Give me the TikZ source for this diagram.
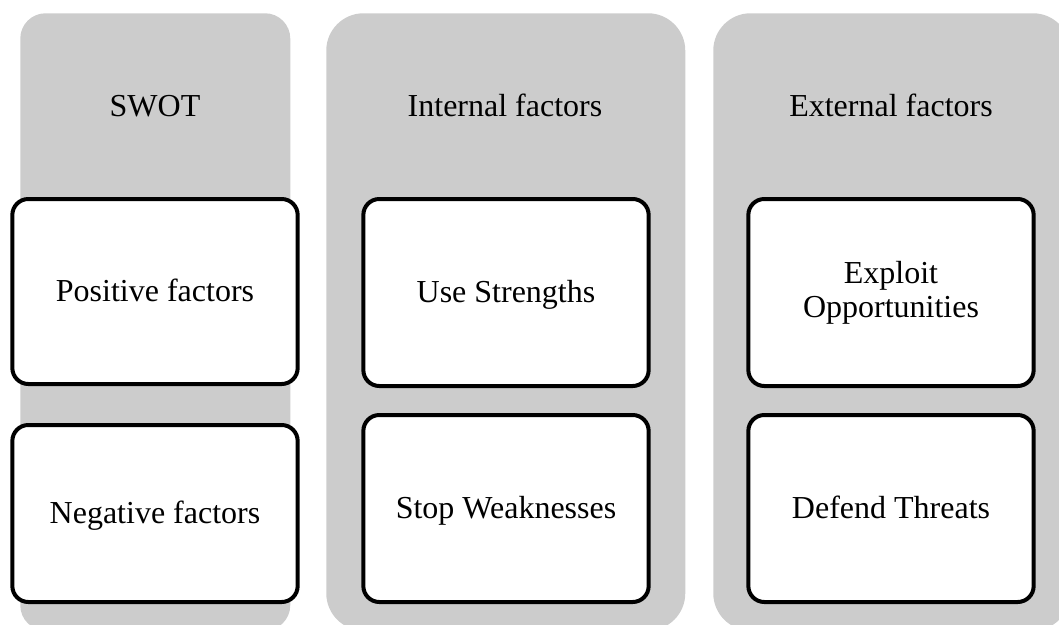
\documentclass[tikz,border=0pt]{standalone}
\usepackage{fontspec}
\setmainfont{Liberation Serif}
\definecolor{panelgray}{HTML}{CCCCCC}
\begin{document}
\begin{tikzpicture}[x=0.75pt,y=-0.75pt,
  panel/.style={fill=panelgray, draw=none, inner sep=0pt, anchor=north west},
  title/.style={anchor=base, inner sep=0pt, font=\fontsize{24}{25.5}\selectfont},
  factorbox/.style={draw=black, line width=3pt, fill=white, rounded corners=12pt,
    minimum width=214pt, inner sep=0pt, align=center,
    font=\fontsize{24}{25.5}\selectfont},
  oneline/.style={text height=17pt, text depth=2.3pt}]
\useasboundingbox (0,0) rectangle (1059,624);
\clip (0,0) rectangle (1059,624);
% panels
\node[panel, rounded corners=19pt, minimum width=202.5pt, minimum height=463pt] (p1) at (20,13) {};
\node[panel, rounded corners=28pt, minimum width=269.25pt, minimum height=463pt] (p2) at (326,13) {};
\node[panel, rounded corners=28pt, minimum width=267.75pt, minimum height=463pt] (p3) at (713,13) {};
% titles
\node[title] (t1) at (155,116.5) {SWOT};
\node[title] (t2) at (505,116.5) {Internal factors};
\node[title] (t3) at (891,116.5) {External factors};
% boxes
\node[factorbox, oneline, minimum height=138.75pt] (pos) at (155,291.5) {Positive factors};
\node[factorbox, oneline, minimum height=132.75pt] (neg) at (155,513.5) {Negative factors};
\node[factorbox, oneline, minimum height=140.25pt] (str) at (506,292.5) {Use Strengths};
\node[factorbox, oneline, minimum height=140.25pt] (wea) at (506,508.5) {Stop Weaknesses};
\node[factorbox, minimum height=140.25pt] (opp) at (891,292.5) {Exploit\\Opportunities};
\node[factorbox, oneline, minimum height=140.25pt] (thr) at (891,508.5) {Defend Threats};
\end{tikzpicture}
\end{document}
